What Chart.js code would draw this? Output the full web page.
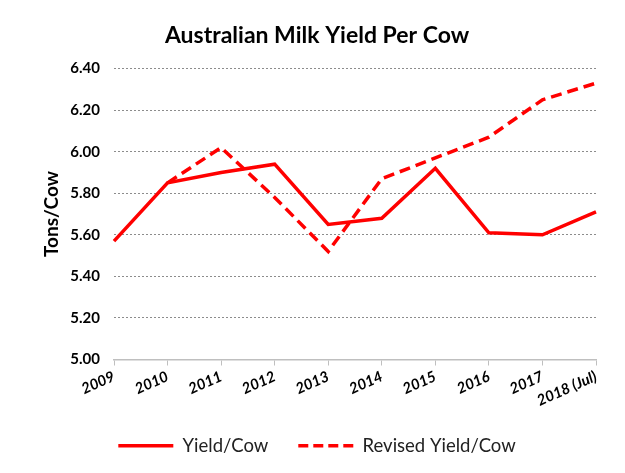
<!DOCTYPE html>
<html>
<head>
<meta charset="utf-8">
<script src="https://cdn.jsdelivr.net/npm/chart.js@4.4.1/dist/chart.umd.min.js"></script>
<style>
  html, body { margin: 0; padding: 0; background: #fff; }
  #wrap { width: 625px; height: 473px; }
</style>
</head>
<body>
<div id="wrap"><canvas id="chart" width="625" height="473"></canvas></div>
<script>
// values
const years = ['2009', '2010', '2011', '2012', '2013', '2014', '2015', '2016', '2017', '2018 (Jul)'];
const yieldPerCow = [5.57, 5.85, 5.90, 5.94, 5.65, 5.68, 5.92, 5.61, 5.60, 5.71];
const revisedYield = [null, 5.85, 6.02, 5.78, 5.52, 5.87, 5.97, 6.07, 6.25, 6.33];
const yTicks = [5.00, 5.20, 5.40, 5.60, 5.80, 6.00, 6.20, 6.40];

const FONT = 'Lato, "Open Sans", sans-serif';
const RED = '#ff0000';

document.addEventListener("DOMContentLoaded", () => {
    const canvas = document.getElementById('chart');
    new Chart(canvas, {
        type: 'line',
        data: {
            labels: years,
            datasets: [
                {
                    label: 'Yield/Cow',
                    data: yieldPerCow,
                    borderColor: RED,
                    backgroundColor: RED,
                    borderWidth: 3.5,
                    pointRadius: 0,
                    tension: 0,
                },
                {
                    label: 'Revised Yield/Cow',
                    data: revisedYield,
                    borderColor: RED,
                    backgroundColor: RED,
                    borderWidth: 3.5,
                    borderDash: [11, 6],
                    pointRadius: 0,
                    tension: 0,
                },
            ],
        },
        options: {
            responsive: false,
            animation: false,
            layout: { padding: { left: 38, right: 29, top: 0, bottom: 8 } },
            plugins: {
                title: {
                    display: true,
                    text: 'Australian Milk Yield Per Cow',
                    color: '#000',
                    font: { family: FONT, size: 23, weight: 'bold' },
                    padding: { top: 22, bottom: 19 },
                },
                legend: {
                    position: 'bottom',
                    labels: {
                        usePointStyle: true,
                        pointStyle: 'line',
                        pointStyleWidth: 55,
                        color: '#222',
                        font: { family: FONT, size: 18.5 },
                        padding: 30,
                        // point-style legend items lose the dataset dash, so put it back
                        generateLabels: (chart) => {
                            const items = Chart.defaults.plugins.legend.labels.generateLabels(chart);
                            items.forEach((item) => {
                                const ds = chart.data.datasets[item.datasetIndex];
                                item.lineDash = ds.borderDash ? [10, 5] : [];
                                item.lineWidth = 3.5;
                                item.strokeStyle = RED;
                            });
                            return items;
                        },
                    },
                },
                tooltip: { enabled: false },
            },
            scales: {
                x: {
                    offset: false,
                    grid: {
                        drawOnChartArea: false,
                        color: '#bfbfbf',
                        tickLength: 6,
                    },
                    border: { color: '#bfbfbf', width: 1.5 },
                    ticks: {
                        color: '#000',
                        font: { family: FONT, size: 15, weight: 'bold', style: 'italic' },
                        minRotation: 24,
                        maxRotation: 24,
                        autoSkip: false,
                        padding: 2,
                    },
                    afterFit: (scale) => { scale.height = 47; },
                },
                y: {
                    min: 5.0,
                    max: 6.4,
                    afterBuildTicks: (scale) => {
                        scale.ticks = yTicks.map(v => ({ value: v }));
                    },
                    grid: {
                        color: '#8c8c8c',
                        lineWidth: 1,
                        drawTicks: false,
                    },
                    border: { display: false, dash: [2, 2] },
                    ticks: {
                        color: '#000',
                        font: { family: FONT, size: 15, weight: 'bold' },
                        padding: 14,
                        callback: (v) => Number(v).toFixed(2),
                    },
                    title: {
                        display: true,
                        text: 'Tons/Cow',
                        color: '#000',
                        font: { family: FONT, size: 19, weight: 'bold' },
                        padding: 2,
                    },
                    afterFit: (scale) => { scale.width = 76; },
                },
            },
        },
    });
});
</script>
</body>
</html>
